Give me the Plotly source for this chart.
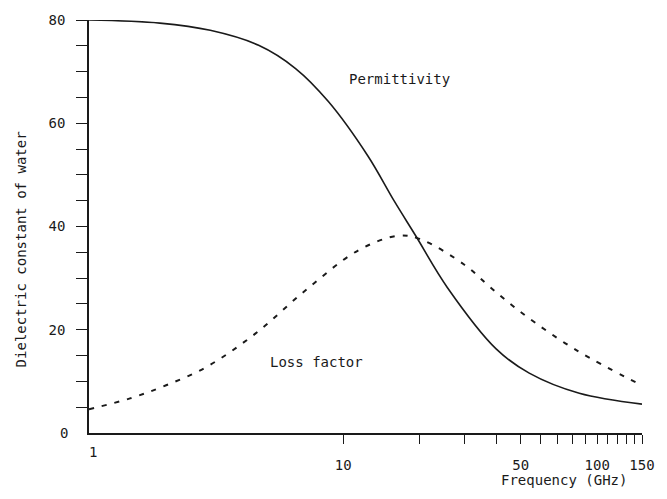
import plotly.graph_objects as go

# Permittivity (solid)
perm_freq = [1, 1.9, 3, 4.65, 6.5, 8.75, 12.5, 15.9, 19.3, 25.7, 40, 54, 85, 150]
perm_vals = [80, 79.4, 78.0, 75.1, 70.6, 64.2, 53.7, 44.9, 38.2, 28.2, 16.3, 11.6, 7.7, 5.6]

# Loss factor (dashed)
loss_freq = [1, 1.45, 2, 2.9, 4.5, 7.1, 11.4, 16.4, 20, 30, 38, 51, 83, 150]
loss_vals = [4.6, 6.7, 9.2, 12.8, 19.2, 27.6, 35.3, 38.2, 37.6, 32.6, 28.2, 23.1, 16.0, 9.2]

x_tickvals = [10, 20, 30, 40, 50, 60, 70, 80, 90, 100, 110, 120, 130, 140, 150]
x_ticktext = ["10", "", "", "", "50", "", "", "", "", "100", "", "", "", "", "150"]
y_tickvals = [5, 10, 15, 20, 25, 30, 35, 40, 45, 50, 55, 60, 65, 70, 75, 80]
y_ticktext = ["", "", "", "20", "", "", "", "40", "", "", "", "60", "", "", "", "80"]

FONT = "DejaVu Sans Mono"

fig = go.Figure()
fig.add_trace(go.Scatter(x=perm_freq, y=perm_vals, mode="lines",
                         line=dict(color="#1a1a1a", width=1.6, shape="spline", smoothing=1.0),
                         showlegend=False))
fig.add_trace(go.Scatter(x=loss_freq, y=loss_vals, mode="lines",
                         line=dict(color="#1a1a1a", width=2, dash="5px,8px", shape="spline", smoothing=1.0),
                         showlegend=False))

fig.update_layout(
    width=667, height=499,
    margin=dict(l=89, r=21, t=18, b=66),
    paper_bgcolor="white", plot_bgcolor="white",
    font=dict(family=FONT, size=14, color="#1a1a1a"),
    xaxis=dict(type="log", range=[0, 2.1761], showgrid=False, zeroline=False,
               showline=True, linecolor="#1a1a1a", linewidth=1.5,
               ticks="outside", ticklen=9, tickwidth=1.2, tickcolor="#1a1a1a",
               tickvals=x_tickvals, ticktext=x_ticktext, ticklabelstandoff=9,
               tickfont=dict(size=14)),
    yaxis=dict(range=[0, 80], showgrid=False, zeroline=False,
               showline=True, linecolor="#1a1a1a", linewidth=1.5,
               ticks="outside", ticklen=11, tickwidth=1.2, tickcolor="#1a1a1a",
               tickvals=y_tickvals, ticktext=y_ticktext, ticklabelstandoff=8,
               tickfont=dict(size=14)),
    annotations=[
        dict(text="0", x=70, y=433, showarrow=False),
        dict(text="Permittivity", x=402, y=77, showarrow=False),
        dict(text="Loss factor", x=318, y=362, showarrow=False),
        dict(text="Frequency (GHz)", x=567, y=480, showarrow=False),
        dict(text="Dielectric constant of water", x=20, y=248, textangle=-90, showarrow=False),
        dict(text="1", x=93, y=452, showarrow=False),
    ],
)

# convert pixel-positioned annotations to paper coords
W, H = 667, 499
L, R, T, B = 89, 21, 18, 66
pw, ph = W - L - R, H - T - B
new = []
for a in fig.layout.annotations:
    a = a.to_plotly_json()
    px, py = a["x"], a["y"]
    a["xref"] = "paper"; a["yref"] = "paper"
    a["x"] = (px - L) / pw
    a["y"] = (H - B - py) / ph
    a["xanchor"] = "right" if a["text"] == "0" else "center"
    a["yanchor"] = "middle"
    new.append(a)
fig.layout.annotations = new

fig.write_html("out.html")
